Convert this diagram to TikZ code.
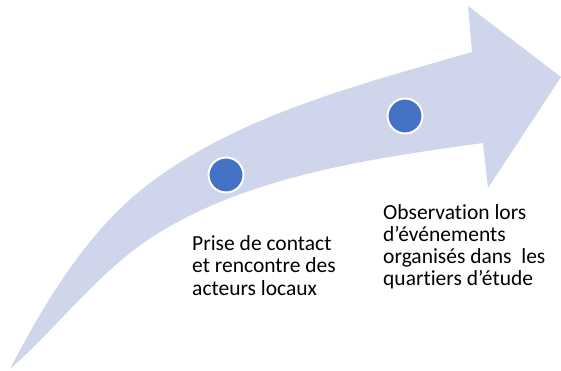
\documentclass[tikz,border=0pt]{standalone}
\usepackage{fontspec}
\setmainfont{Carlito}[Ligatures=CommonOff]
\usepackage{tikz}
\definecolor{pale}{HTML}{CFD5EA}
\definecolor{dot}{HTML}{4472C4}
\tikzset{stage/.style={circle,fill=dot,draw=white,line width=2pt,minimum size=35pt,inner sep=0pt},
         note/.style={anchor=north west,align=left,inner sep=0pt,font=\fontsize{21.5}{22.2}\selectfont}}

\begin{document}
\begin{tikzpicture}[x=1pt,y=-1pt]
                      \useasboundingbox (0,0) rectangle (561,371);
                      \fill[pale] (10,369) .. controls (46,300) and (88,230) .. (150,183)
                        .. controls (242,114) and (362,84) .. (472,52)
                        -- (468,6) -- (561,77) -- (488,188) -- (483,143)
                        .. controls (374,158) and (254,175) .. (160,232)
                        .. controls (102,267) and (61,324) .. (10,369) -- cycle;
                      \node[stage](a)at(226,175){};
                      \node[stage](b)at(405,116){};
                      \node[note](first)at(192,235.5){Prise de contact\\et rencontre des\\acteurs locaux};
                      \node[note](second)at(383,204){Observation lors\\d’événements\\organisés dans~ les\\quartiers d’étude};
                  \end{tikzpicture}
\end{document}
